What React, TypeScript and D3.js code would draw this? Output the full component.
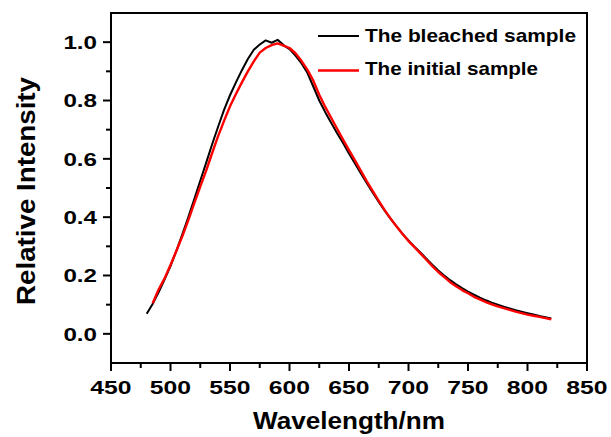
import React from "react";
import * as d3 from "d3";

const wavelengthsBleached = [480,485,490,495,500,505,510,515,520,525,530,535,540,545,550,555,560,565,570,575,580,585,590,595,600,605,610,615,620,625,630,635,640,645,650,655,660,665,670,675,680,685,690,695,700,705,710,715,720,725,730,735,740,745,750,755,760,765,770,775,780,785,790,795,800,805,810,815,820];
const bleached = [0.069,0.102,0.142,0.186,0.232,0.285,0.342,0.4,0.462,0.525,0.587,0.65,0.71,0.768,0.818,0.862,0.904,0.942,0.974,0.992,1.006,0.998,1.008,0.99,0.976,0.954,0.928,0.895,0.848,0.8,0.76,0.724,0.688,0.654,0.618,0.584,0.55,0.516,0.484,0.452,0.422,0.394,0.368,0.343,0.32,0.299,0.279,0.258,0.237,0.217,0.2,0.184,0.17,0.157,0.145,0.134,0.124,0.115,0.107,0.1,0.093,0.087,0.081,0.076,0.071,0.066,0.061,0.057,0.053];

const wavelengthsInitial = [485,490,495,500,505,510,515,520,525,530,535,540,545,550,555,560,565,570,575,580,585,590,595,600,605,610,615,620,625,630,635,640,645,650,655,660,665,670,675,680,685,690,695,700,705,710,715,720,725,730,735,740,745,750,755,760,765,770,775,780,785,790,795,800,805,810,815,820];
const initial = [0.105,0.152,0.19,0.236,0.285,0.335,0.39,0.448,0.505,0.56,0.62,0.678,0.73,0.78,0.822,0.862,0.9,0.934,0.964,0.98,0.99,0.996,0.988,0.98,0.962,0.936,0.906,0.868,0.82,0.778,0.741,0.703,0.666,0.63,0.595,0.559,0.523,0.489,0.456,0.424,0.395,0.368,0.342,0.318,0.297,0.276,0.254,0.232,0.212,0.195,0.177,0.163,0.15,0.139,0.127,0.118,0.109,0.101,0.094,0.088,0.082,0.076,0.071,0.066,0.062,0.058,0.054,0.05];

const xMajorTicks = [450,500,550,600,650,700,750,800,850];
const xMinorTicks = [475,525,575,625,675,725,775,825];
const yMajorTicks = [0.0,0.2,0.4,0.6,0.8,1.0];
const yMinorTicks = [0.1,0.3,0.5,0.7,0.9];

const legendLabels = ["The bleached sample", "The initial sample"];
const seriesColors = ["#000000", "#ff0000"];

const FONT = "'Liberation Sans', Arial, sans-serif";

export default function App() {
  const left = 111, right = 587, top = 13, bottom = 363;
  const x = d3.scaleLinear().domain([450, 850]).range([left, right]);
  const y = d3.scaleLinear().domain([-0.1, 1.1]).range([bottom, top]);

  const line = d3.line<[number, number]>().x(d => x(d[0])).y(d => y(d[1]));
  const bPts: [number, number][] = wavelengthsBleached.map((w, i) => [w, bleached[i]]);
  const iPts: [number, number][] = wavelengthsInitial.map((w, i) => [w, initial[i]]);

  return (
    <svg width={611} height={437} style={{ position: "absolute", left: 0, top: 0, background: "#fff" }}>
      <rect x={0} y={0} width={611} height={437} fill="#fff" />
      <path d={line(bPts) || ""} fill="none" stroke={seriesColors[0]} strokeWidth={2} strokeLinejoin="round" />
      <path d={line(iPts) || ""} fill="none" stroke={seriesColors[1]} strokeWidth={2.4} strokeLinejoin="round" />
      <rect x={left} y={top} width={right - left} height={bottom - top} fill="none" stroke="#000" strokeWidth={2} />
      {xMajorTicks.map(t => (
        <g key={"xm" + t}>
          <line x1={x(t)} x2={x(t)} y1={bottom} y2={bottom + 8} stroke="#000" strokeWidth={2} />
          <g transform={`translate(${x(t)},393.5) scale(1.33,1)`}>
            <text textAnchor="middle" fontFamily={FONT} fontWeight="bold" fontSize={18.6} fill="#000">{t}</text>
          </g>
        </g>
      ))}
      {xMinorTicks.map(t => (
        <line key={"xn" + t} x1={x(t)} x2={x(t)} y1={bottom} y2={bottom + 5} stroke="#000" strokeWidth={2} />
      ))}
      {yMajorTicks.map(t => (
        <g key={"ym" + t}>
          <line x1={left - 8} x2={left} y1={y(t)} y2={y(t)} stroke="#000" strokeWidth={2} />
          <g transform={`translate(97,${y(t) + 6.7}) scale(1.3,1)`}>
            <text textAnchor="end" fontFamily={FONT} fontWeight="bold" fontSize={18.6} fill="#000">{t.toFixed(1)}</text>
          </g>
        </g>
      ))}
      {yMinorTicks.map(t => (
        <line key={"yn" + t} x1={left - 5} x2={left} y1={y(t)} y2={y(t)} stroke="#000" strokeWidth={2} />
      ))}
      <text x={(left + right) / 2} y={429} textAnchor="middle" fontFamily={FONT} fontWeight="bold" fontSize={23.5}
        textLength={192} lengthAdjust="spacingAndGlyphs" fill="#000">Wavelength/nm</text>
      <g transform={`translate(35,191) rotate(-90)`}>
        <text textAnchor="middle" fontFamily={FONT} fontWeight="bold" fontSize={26.5}
          textLength={228} lengthAdjust="spacingAndGlyphs" fill="#000">Relative Intensity</text>
      </g>
      {legendLabels.map((lab, i) => {
        const ly = i === 0 ? 36 : 70.5;
        const by = i === 0 ? 41.7 : 75.3;
        const tl = i === 0 ? 211 : 173;
        return (
          <g key={lab}>
            <line x1={318} x2={359} y1={ly} y2={ly} stroke={seriesColors[i]} strokeWidth={i === 0 ? 2 : 2.4} />
            <text x={365} y={by} fontFamily={FONT} fontWeight="bold" fontSize={19}
              textLength={tl} lengthAdjust="spacingAndGlyphs" fill="#000">{lab}</text>
          </g>
        );
      })}
    </svg>
  );
}
